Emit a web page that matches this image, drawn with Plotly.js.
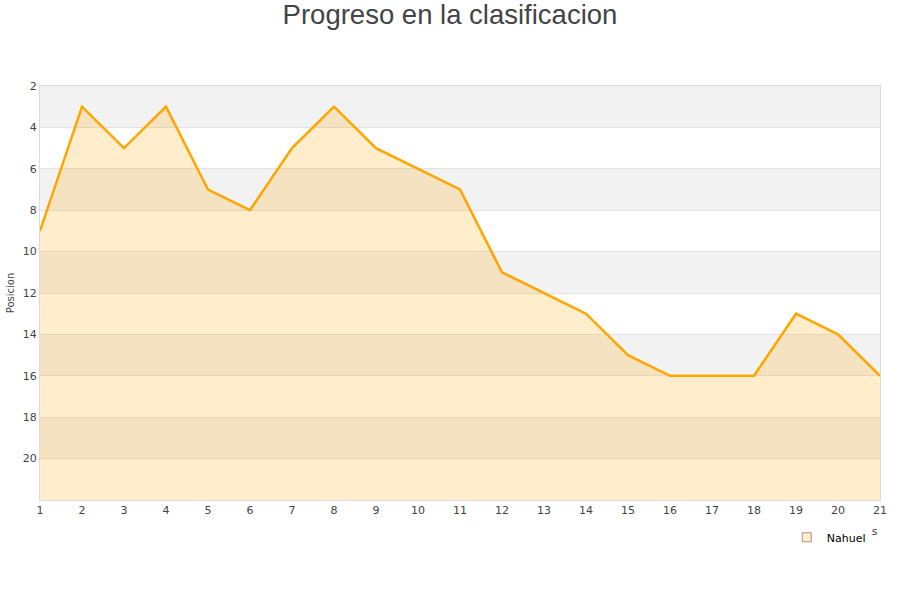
<!DOCTYPE html>
<html>
<head>
<meta charset="utf-8">
<script src="https://cdn.plot.ly/plotly-3.0.1.min.js"></script>
<style>
  body { margin: 0; background: #fff; }
  #grafico { width: 900px; height: 600px; }
</style>
</head>
<body>
<div id="grafico"></div>
<script>
// datos de la clasificacion
const jornadas = [1, 2, 3, 4, 5, 6, 7, 8, 9, 10, 11, 12, 13, 14, 15, 16, 17, 18, 19, 20, 21];
const posiciones = [9, 3, 5, 3, 7, 8, 5, 3, 5, 6, 7, 11, 12, 13, 15, 16, 16, 16, 13, 14, 16];
const ticksPosicion = [2, 4, 6, 8, 10, 12, 14, 16, 18, 20];
const jugador = "Nahuel";
const posicionFondo = 22;

// franjas grises alternas del fondo
let franjas = [];
for (let p = 2; p < posicionFondo; p += 4) {
    franjas.push({
        type: 'rect', xref: 'paper', yref: 'y', layer: 'below',
        x0: 0, x1: 1, y0: p, y1: p + 2,
        fillcolor: '#f2f2f2', line: { width: 0 }
    });
}

// linea base para rellenar hasta abajo (eje invertido)
var base = {
    x: jornadas,
    y: jornadas.map(() => posicionFondo),
    type: 'scatter', mode: 'lines',
    line: { width: 0 }, hoverinfo: 'skip', showlegend: false
};

var traza = {
    x: jornadas,
    y: posiciones,
    type: 'scatter', mode: 'lines',
    fill: 'tonexty', fillcolor: 'rgba(255,165,0,0.2)',
    line: { color: '#ffa500', width: 2.5 },
    name: jugador, showlegend: false
};

// solo para la leyenda
var leyenda = {
    x: [null], y: [null],
    type: 'scatter', mode: 'markers',
    marker: { symbol: 'square', size: 9, color: '#feedcc', line: { color: '#a89878', width: 1 } },
    name: jugador
};

var layout = {
    width: 900, height: 600,
    paper_bgcolor: '#fff', plot_bgcolor: 'rgba(0,0,0,0)',
    margin: { l: 40, r: 20, t: 86, b: 100 },
    font: { family: 'DejaVu Sans, sans-serif', size: 11, color: '#444' },
    title: {
        text: 'Progreso en la clasificacion',
        font: { family: 'Liberation Sans, Arial, sans-serif', size: 27.5, color: '#444' },
        x: 0.5, xanchor: 'center', y: 0.992, yanchor: 'top'
    },
    xaxis: {
        range: [1, 21], tickvals: jornadas,
        showgrid: false, zeroline: false,
        showline: true, mirror: true, linecolor: '#dcdcdc', linewidth: 1,
        ticks: '', tickfont: { size: 11, color: '#444' }
    },
    yaxis: {
        range: [posicionFondo, 2], tickvals: ticksPosicion,
        showgrid: true, gridcolor: '#e2e2e2', zeroline: false,
        showline: true, mirror: true, linecolor: '#dcdcdc', linewidth: 1,
        ticks: '', tickfont: { size: 11, color: '#444' },
        title: { text: 'Posicion', font: { size: 10, color: '#444' }, standoff: 6 }
    },
    shapes: franjas,
    annotations: [{
        text: 'Jornadas', xref: 'paper', yref: 'paper',
        x: 1, y: -0.075, xanchor: 'right', yanchor: 'middle',
        showarrow: false, font: { size: 11, color: '#444' }
    }],
    legend: {
        x: 0.889, y: -0.09, xanchor: 'left', yanchor: 'middle',
        bgcolor: '#fff', borderwidth: 0,
        font: { size: 11, color: '#000' }
    },
    showlegend: true
};

Plotly.newPlot('grafico', [base, traza, leyenda], layout, { displayModeBar: false }).then(function () {
    // la leyenda tapa el titulo del eje, como en el original
    let capa = document.querySelector('#grafico .infolayer');
    let ley = document.querySelector('#grafico .legend');
    if (capa && ley) capa.appendChild(ley);
});
</script>
</body>
</html>
